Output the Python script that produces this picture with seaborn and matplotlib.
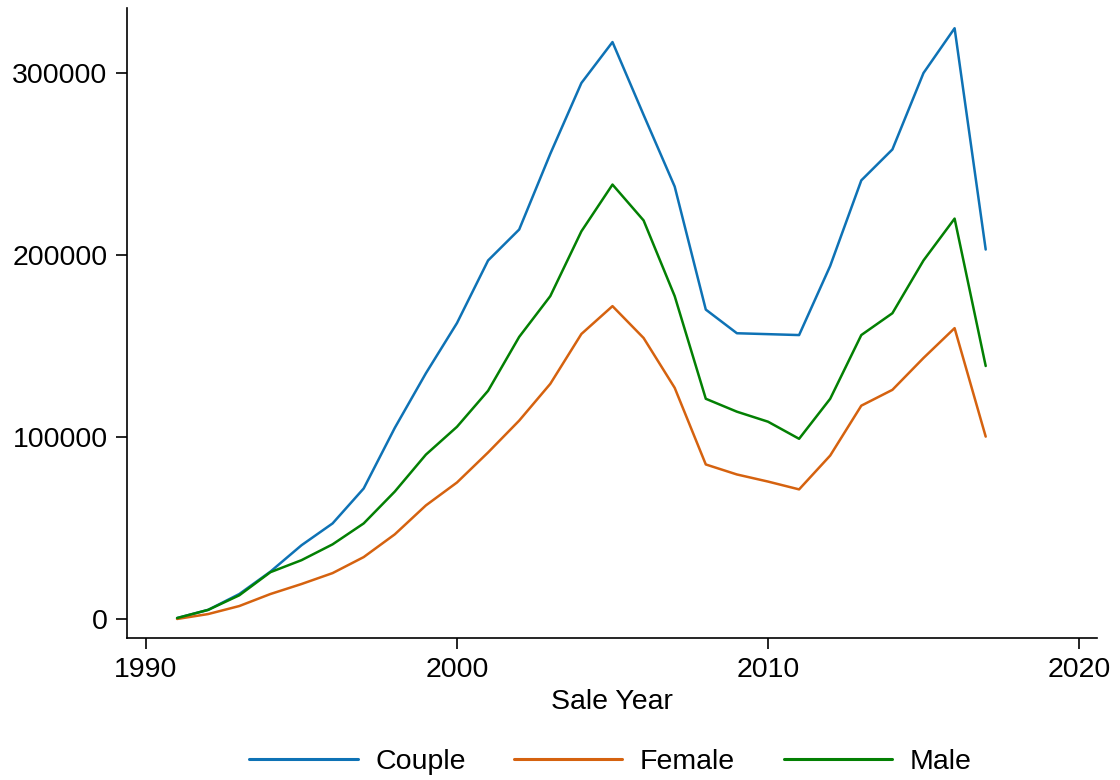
import matplotlib
matplotlib.use("Agg")
import matplotlib.pyplot as plt
import seaborn as sns
import pandas as pd

years = list(range(1991, 2018))

couple = [500, 5000, 13700, 26000, 40500, 52500, 71700, 105000, 135000, 162600,
          197000, 214000, 255600, 294500, 317000, 277000, 237600, 170000, 157000,
          156500, 156000, 194000, 241000, 258000, 300000, 324600, 203000]
female = [0, 2700, 7100, 13700, 19200, 25200, 34000, 46500, 62400, 75000,
          91500, 109000, 129200, 156600, 171900, 154400, 127000, 84900, 79400,
          75500, 71200, 89800, 117200, 125900, 143400, 159800, 100200]
male = [500, 5000, 13000, 25700, 32300, 41000, 52500, 70000, 90300, 105600,
        125400, 155000, 177400, 213000, 238700, 219000, 177400, 121000, 113900,
        108400, 99000, 121000, 156000, 168000, 197000, 220000, 139000]

groups = ["Couple", "Female", "Male"]
colors = ["#0e72b5", "#d5620f", "#038003"]
x_ticks = [1990, 2000, 2010, 2020]
y_ticks = [0, 100000, 200000, 300000]

df = pd.DataFrame({
    "Sale Year": years * 3,
    "value": couple + female + male,
    "group": [g for g in groups for _ in years],
})

sns.set_theme(style="white")
plt.rcParams["font.family"] = ["Liberation Sans", "DejaVu Sans"]
plt.rcParams["text.color"] = "black"
plt.rcParams["axes.labelcolor"] = "black"
plt.rcParams["xtick.color"] = "black"
plt.rcParams["ytick.color"] = "black"

fig = plt.figure(figsize=(11.2, 7.8), dpi=100)
ax = fig.add_axes([0.1134, 0.1821, 0.8661, 0.8076])

sns.lineplot(data=df, x="Sale Year", y="value", hue="group",
             palette=dict(zip(groups, colors)), linewidth=1.8, ax=ax,
             legend=False)

ax.set_xlim(1989.39, 2020.58)
ax.set_ylim(-10440, 335700)
ax.set_xticks(x_ticks)
ax.set_yticks(y_ticks)
ax.set_xticklabels([str(t) for t in x_ticks])
ax.set_yticklabels([str(t) for t in y_ticks])
ax.set_xlabel("Sale Year", fontsize=20.5, labelpad=4, color="black")
ax.set_ylabel("")
ax.tick_params(axis="both", which="major", labelsize=20.5, length=8,
               width=1.2, direction="out", color="black", labelcolor="black",
               pad=6, bottom=True, left=True)
for side in ["top", "right"]:
    ax.spines[side].set_visible(False)
for side in ["left", "bottom"]:
    ax.spines[side].set_color("black")
    ax.spines[side].set_linewidth(1.2)

handles = [plt.Line2D([], [], color=c, linewidth=2.2) for c in colors]
fig.legend(handles, groups, loc="center", bbox_to_anchor=(0.545, 0.023),
           ncol=3, frameon=False, fontsize=20.5, handlelength=3.8,
           handletextpad=0.62, columnspacing=1.7, labelcolor="black")

fig.savefig("out.png", dpi=100, facecolor="white")
